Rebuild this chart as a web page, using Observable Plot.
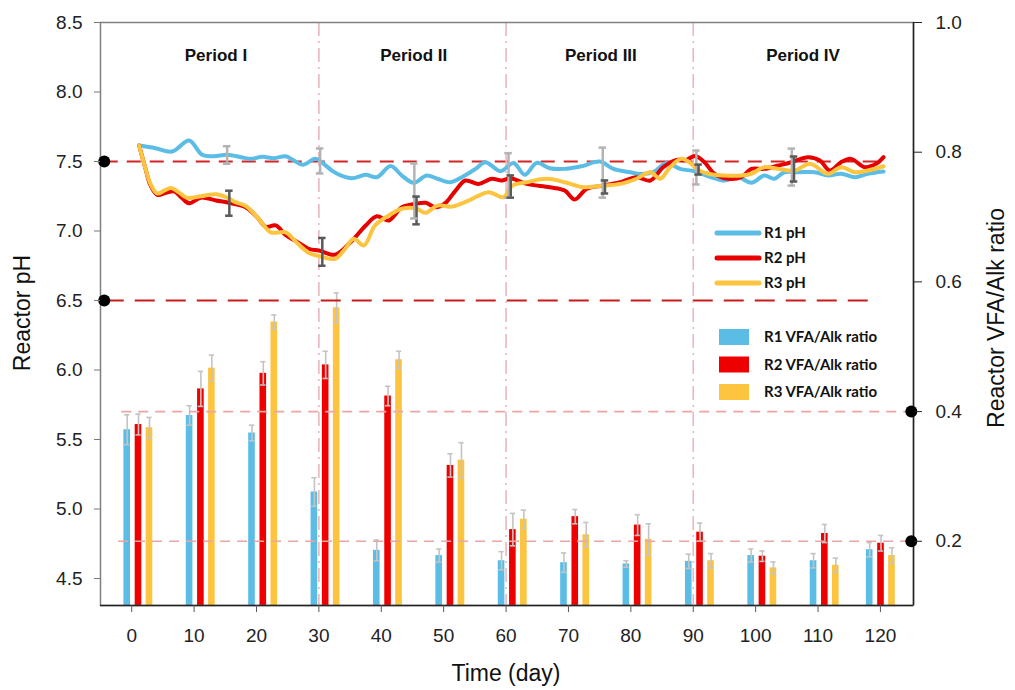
<!DOCTYPE html>
<html><head><meta charset="utf-8">
<script src="https://cdn.jsdelivr.net/npm/d3@7"></script>
<script src="https://cdn.jsdelivr.net/npm/@observablehq/plot@0.6"></script>
<style>body{margin:0;background:#fff}#chart{width:1015px;height:690px}</style>
</head><body><div id="chart"></div>
<script>
// ---------- data ----------
const xTicks = [0,10,20,30,40,50,60,70,80,90,100,110,120];
const phTicks = [4.5,5.0,5.5,6.0,6.5,7.0,7.5,8.0,8.5];
const ratioTicks = [0.2,0.4,0.6,0.8,1.0];
const barDays = [0,10,20,30,40,50,60,70,80,90,100,110,119];
const r1Ratio = [0.372,0.394,0.367,0.276,0.186,0.178,0.170,0.167,0.165,0.169,0.178,0.170,0.187];
const r2Ratio = [0.380,0.435,0.459,0.472,0.424,0.317,0.218,0.238,0.225,0.214,0.177,0.212,0.197];
const r3Ratio = [0.375,0.467,0.538,0.560,0.480,0.325,0.234,0.210,0.203,0.170,0.159,0.163,0.178];
const r1RatioErr = [0.023,0.015,0.012,0.022,0.016,0.010,0.014,0.015,0.005,0.011,0.010,0.011,0.011];
const r2RatioErr = [0.016,0.027,0.018,0.021,0.015,0.018,0.025,0.011,0.016,0.014,0.008,0.014,0.012];
const r3RatioErr = [0.016,0.020,0.011,0.023,0.013,0.027,0.014,0.019,0.024,0.011,0.009,0.011,0.012];

const r1pH = [[1.2,7.615],[3.8,7.596],[6.5,7.572],[9.2,7.651],[11.3,7.548],[13.2,7.538],[15.3,7.548],[17.5,7.531],[19.1,7.519],[20.9,7.534],[22.8,7.524],[24.7,7.538],[26,7.507],[27.4,7.476],[29.5,7.519],[31.1,7.471],[32.1,7.435],[33.5,7.40],[35.3,7.38],[37.5,7.404],[39.3,7.387],[41.5,7.467],[43.3,7.399],[45.2,7.347],[47.3,7.399],[49,7.376],[51.1,7.351],[52.9,7.387],[55.1,7.447],[56.7,7.495],[59.1,7.43],[61.2,7.49],[63,7.404],[64.9,7.49],[67,7.452],[69.4,7.447],[72.1,7.466],[75,7.50],[77.2,7.447],[79.9,7.423],[81.4,7.41],[83.6,7.423],[85.7,7.49],[87.9,7.447],[90.2,7.43],[92.9,7.387],[95,7.363],[97.2,7.387],[99.3,7.347],[101.4,7.399],[103,7.376],[104.6,7.423],[106.8,7.423],[109.5,7.423],[111.6,7.399],[113.7,7.412],[115.9,7.387],[118,7.412],[120.5,7.428]];
const r2pH = [[1.2,7.615],[2.2,7.45],[3.0,7.33],[4.1,7.26],[5.5,7.275],[6.8,7.285],[8.0,7.24],[9.2,7.20],[11.1,7.24],[13.5,7.22],[15.9,7.20],[18.3,7.17],[20.1,7.10],[21.5,7.03],[23.1,7.04],[24.7,6.97],[26.6,6.92],[28.5,6.87],[30,6.86],[32.6,6.83],[35.3,6.93],[37.5,7.04],[39.3,7.106],[41.2,7.076],[43.3,7.171],[45.5,7.196],[47.1,7.203],[48.7,7.171],[50.3,7.203],[51.9,7.291],[53.5,7.363],[55.6,7.339],[57.7,7.376],[59.3,7.363],[60.7,7.38],[63.3,7.339],[67,7.315],[69.4,7.291],[71,7.227],[72.9,7.303],[75.6,7.327],[78.3,7.351],[80.9,7.387],[83.1,7.363],[85.2,7.459],[87.3,7.512],[88.8,7.51],[90.3,7.54],[91.8,7.495],[93.4,7.412],[95.6,7.376],[97.7,7.387],[99.3,7.447],[101.4,7.447],[103.6,7.471],[105.7,7.495],[108.4,7.531],[110.3,7.507],[111.9,7.435],[113.7,7.495],[115.3,7.519],[117.5,7.459],[119.3,7.483],[120.5,7.531]];
const r3pH = [[1.2,7.615],[2.2,7.45],[3.0,7.34],[4.1,7.27],[5.2,7.29],[6.3,7.31],[7.5,7.28],[8.8,7.24],[11.1,7.25],[13.5,7.265],[15.3,7.24],[16.5,7.21],[18.3,7.18],[20.1,7.10],[22.3,6.99],[23.5,6.99],[24.7,6.99],[26.6,6.91],[28.5,6.84],[30,6.82],[32.6,6.80],[34.2,6.872],[35.6,6.944],[37.2,6.896],[39,7.04],[41.2,7.112],[43.3,7.16],[45.5,7.164],[47.1,7.131],[49,7.183],[51.3,7.176],[54,7.219],[57.2,7.279],[59.6,7.243],[61,7.327],[63.3,7.351],[66.5,7.376],[69.4,7.351],[72.4,7.315],[75.6,7.327],[78.3,7.339],[80.9,7.376],[83.1,7.423],[84.7,7.376],[86.3,7.459],[88.1,7.519],[89.7,7.483],[90.5,7.447],[92.4,7.412],[95,7.399],[97.7,7.399],[99.3,7.412],[101.4,7.459],[103.6,7.447],[106.3,7.435],[108.7,7.483],[111.6,7.412],[113.7,7.459],[115.9,7.423],[118,7.435],[120.5,7.466]];

const phErrDays = [15.3,30.2,45.3,60.4,75.5,90.5,105.8];
const r1PhMean = [7.547,7.504,7.288,7.40,7.42,7.457,7.46];
const r1PhErr = [0.063,0.09,0.198,0.16,0.18,0.122,0.133];
const r23PhMean = [7.20,6.85,7.148,7.32,7.317,7.442,7.446];
const r23PhErr = [0.09,0.10,0.10,0.08,0.047,0.036,0.09];

const refPh = [7.5, 6.5];
const refRatio = [0.4, 0.2];
const periodBounds = [30, 60, 90];
const periodNames = ["Period I","Period II","Period III","Period IV"];
const periodCenters = [13.5, 45.2, 75.2, 107.6];

// ---------- scales ----------
const yMin = 4.306, yMax = 8.5;
const xDomain = [-5, 125.3];
const toPh = v => yMax - (1 - v) * 4.665;
const fromPh = p => 1 - (yMax - p) / 4.665;

const cBlue = "#5bbde6", cRed = "#ee0000", cYellow = "#fcc43f";
const barSeries = [
  {name:"R1", v:r1Ratio, e:r1RatioErr, off:-0.72, color:cBlue},
  {name:"R2", v:r2Ratio, e:r2RatioErr, off:1.09, color:cRed},
  {name:"R3", v:r3Ratio, e:r3RatioErr, off:2.85, color:cYellow}
];
const bars = barSeries.flatMap(s => barDays.map((d,i)=>({x:d+s.off, v:s.v[i], e:s.e[i], color:s.color})));
const hw = 0.53;

const phErr = [
  ...phErrDays.map((d,i)=>({x:d, m:r1PhMean[i], e:r1PhErr[i], c:"#b3b3b3"})),
  ...phErrDays.map((d,i)=>({x:d+0.35, m:r23PhMean[i], e:r23PhErr[i], c:"#5a5a5a"}))
];

const chart = Plot.plot({
  width: 1015, height: 690,
  marginLeft: 100, marginRight: 102, marginTop: 22, marginBottom: 85,
  x: {domain: xDomain},
  y: {domain: [yMin, yMax]},
  style: {fontFamily: "'Liberation Sans', Arial, sans-serif", background: "white", color: "#222"},
  marks: [
    Plot.rectY(bars, {x1: d=>d.x-hw, x2: d=>d.x+hw, y1: yMin, y2: d=>toPh(d.v), fill: d=>d.color}),
    Plot.ruleX(bars, {x: "x", y1: d=>toPh(d.v-d.e), y2: d=>toPh(d.v+d.e), stroke: "#c4c4c4", strokeWidth: 1.6}),
    Plot.ruleY(bars, {y: d=>toPh(d.v+d.e), x1: d=>d.x-0.42, x2: d=>d.x+0.42, stroke: "#c4c4c4", strokeWidth: 1.6}),
    Plot.ruleY(bars, {y: d=>toPh(d.v-d.e), x1: d=>d.x-0.42, x2: d=>d.x+0.42, stroke: "#c4c4c4", strokeWidth: 1.6}),
    // reference lines
    Plot.ruleY([refPh[0]], {x1: -4.4, x2: 120.5, stroke: "#d42424", strokeWidth: 2, strokeDasharray: "14,9"}),
    Plot.ruleY([refPh[1]], {x1: -4.4, x2: 118.9, stroke: "#c81c1c", strokeWidth: 2, strokeDasharray: "20,11"}),
    Plot.ruleY(refRatio.map(toPh), {x1: (d,i)=> i===0 ? -1.6 : -2.1, x2: 125, stroke: "#eba5a5", strokeWidth: 1.6, strokeDasharray: "10,7"}),
    Plot.ruleX(periodBounds, {stroke: "#ecb7be", strokeWidth: 1.6, strokeDasharray: "14,5,2,5"}),
    // pH lines
    Plot.line(r1pH, {x: d=>d[0], y: d=>d[1], stroke: "#5bbde6", strokeWidth: 4, curve: "catmull-rom"}),
    Plot.line(r2pH, {x: d=>d[0], y: d=>d[1], stroke: "#e60000", strokeWidth: 4, curve: "catmull-rom"}),
    Plot.line(r3pH, {x: d=>d[0], y: d=>d[1], stroke: "#fcc43f", strokeWidth: 4, curve: "catmull-rom"}),
    // pH error bars
    Plot.ruleX(phErr, {x: "x", y1: d=>d.m-d.e, y2: d=>d.m+d.e, stroke: d=>d.c, strokeWidth: 2.5}),
    Plot.ruleY(phErr, {y: d=>d.m+d.e, x1: d=>d.x-0.6, x2: d=>d.x+0.6, stroke: d=>d.c, strokeWidth: 2.5}),
    Plot.ruleY(phErr, {y: d=>d.m-d.e, x1: d=>d.x-0.6, x2: d=>d.x+0.6, stroke: d=>d.c, strokeWidth: 2.5}),
    // period labels
    Plot.text(periodNames, {x: (d,i)=>periodCenters[i], y: 8.262, text: d=>d, fontWeight: "bold", fontSize: 17, fill: "#111"}),
    // frame
    Plot.frame({stroke: "#808080", strokeWidth: 1.5}),
    Plot.ruleX([xDomain[1]], {stroke: "#222", strokeWidth: 1.5}),
    Plot.ruleY([yMin], {stroke: "#222", strokeWidth: 1.5}),
    // dots on axes
    Plot.dot(refPh, {x: -4.4, y: d=>d, r: 6, fill: "#000"}),
    Plot.dot(refRatio, {x: 124.95, y: d=>toPh(d), r: 6, fill: "#000"}),
    // axes
    Plot.axisY({anchor: "left", ticks: phTicks, tickFormat: d=>d.toFixed(1), tickSize: 6, tickPadding: 12, fontSize: 19, label: null, stroke: "#777"}),
    Plot.axisY({anchor: "right", ticks: ratioTicks.map(toPh), tickFormat: d=>fromPh(d).toFixed(1), tickSize: 8, tickPadding: 14, fontSize: 19, label: null, stroke: "#222"}),
    Plot.axisX({ticks: xTicks, tickFormat: d=>String(d), tickSize: 7, tickPadding: 16, fontSize: 19, label: null, stroke: "#555"})
  ]
});
document.getElementById("chart").appendChild(chart);

// ---------- titles & legend ----------
const svg = d3.select(chart);
const tf = "'Liberation Sans', Arial, sans-serif";
svg.append("text").attr("transform","translate(24,313) rotate(-90)").attr("text-anchor","middle").attr("dominant-baseline","middle")
  .attr("font-family",tf).attr("font-size",23).attr("fill","#111").text("Reactor pH");
svg.append("text").attr("transform","translate(998,318) rotate(-90)").attr("text-anchor","middle").attr("dominant-baseline","middle")
  .attr("font-family",tf).attr("font-size",23).attr("fill","#111").text("Reactor VFA/Alk ratio");
svg.append("text").attr("x",506).attr("y",675).attr("text-anchor","middle").attr("dominant-baseline","middle")
  .attr("font-family",tf).attr("font-size",23).attr("fill","#111").text("Time (day)");

const leg = svg.append("g").attr("font-family","Lato, 'Open Sans', sans-serif").attr("font-weight","bold").attr("font-size",15).attr("fill","#111").attr("text-anchor","start");
const lineLeg = [["R1 pH","#5bbde6"],["R2 pH","#e60000"],["R3 pH","#fcc43f"]];
lineLeg.forEach(([t,c],i)=>{
  const y = 233 + i*25;
  leg.append("line").attr("x1",717).attr("x2",759).attr("y1",y).attr("y2",y).attr("stroke",c).attr("stroke-width",5).attr("stroke-linecap","round");
  leg.append("text").attr("x",764).attr("y",y).attr("dy","0.35em").attr("text-anchor","start").text(t);
});
const barLeg = [["R1 VFA/Alk ratio",cBlue],["R2 VFA/Alk ratio",cRed],["R3 VFA/Alk ratio",cYellow]];
barLeg.forEach(([t,c],i)=>{
  const y = 337 + i*27.5;
  leg.append("rect").attr("x",719).attr("y",y-8).attr("width",30).attr("height",16).attr("fill",c);
  leg.append("text").attr("x",764).attr("y",y).attr("dy","0.35em").attr("text-anchor","start").text(t);
});
</script>
</body></html>
